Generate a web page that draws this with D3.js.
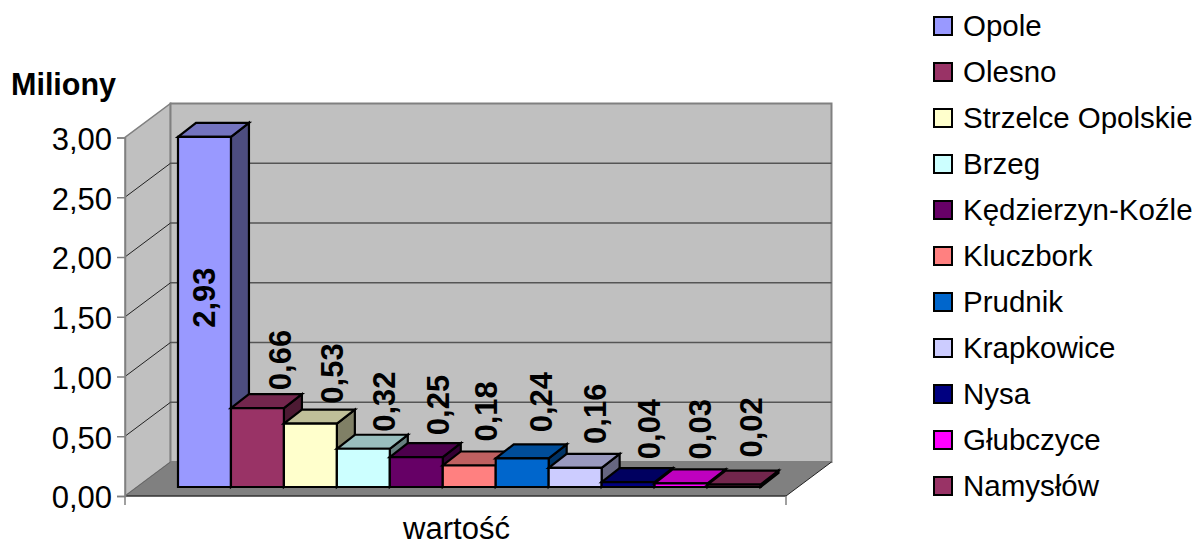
<!DOCTYPE html>
<html><head><meta charset="utf-8">
<script src="https://cdn.jsdelivr.net/npm/d3@7"></script>
<style>html,body{margin:0;padding:0;background:#fff}svg{display:block}text{font-family:"Liberation Sans",Arial,sans-serif;fill:#000}</style>
</head><body><svg id="c" width="1196" height="542"></svg>
<script>
const categories=["Opole","Olesno","Strzelce Opolskie","Brzeg","Kędzierzyn-Koźle","Kluczbork","Prudnik","Krapkowice","Nysa","Głubczyce","Namysłów"];
const values=[2.93,0.66,0.53,0.32,0.25,0.18,0.24,0.16,0.04,0.03,0.02];
const colors=["#9999FF","#993366","#FFFFCC","#CCFFFF","#660066","#FF8080","#0066CC","#CCCCFF","#000080","#FF00FF","#993366"];
const yTicks=[0,0.5,1,1.5,2,2.5,3];
const axisCategory="wartość", unitLabel="Miliony";

(function(){
const svg=d3.select("#c");
const fmt=v=>d3.format(".2f")(v).replace(".",",");
const W={x0:125,x1:786,y0:496,dx:45.5,dy:-34};
const y=d3.scaleLinear().domain([0,3]).range([W.y0,W.y0-358.5]);
const x=d3.scaleBand().domain(categories).range([178,760.5]);
const h0=487, bd={dx:18,dy:-14};
const hScale=d3.scaleLinear().domain([0,3]).range([0,358.5]);
const pts=a=>a.map(p=>p.join(",")).join(" ");
const yTop=y(3);
// label nudges: the source chart places value labels unevenly
const labelDx=[11,33.5,33,32,33,28,30,31,32,30,28];
const labelGap=[-191,18,20,17,22,24,26,24,23,24,27];

svg.append("polygon").attr("points",pts([[W.x0,W.y0],[W.x0,yTop],[W.x0+W.dx,yTop+W.dy],[W.x0+W.dx,W.y0+W.dy]])).attr("fill","#c0c0c0").attr("stroke","#808080").attr("stroke-width",1.5);
svg.append("polygon").attr("points",pts([[W.x0+W.dx,W.y0+W.dy],[W.x0+W.dx,yTop+W.dy],[W.x1+W.dx,yTop+W.dy],[W.x1+W.dx,W.y0+W.dy]])).attr("fill","#c0c0c0").attr("stroke","#808080").attr("stroke-width",2);
svg.append("polygon").attr("points",pts([[W.x0,W.y0],[W.x0+W.dx,W.y0+W.dy],[W.x1+W.dx,W.y0+W.dy],[W.x1,W.y0]])).attr("fill","#808080");
yTicks.slice(1,-1).forEach(t=>{
  svg.append("line").attr("x1",W.x0+W.dx).attr("x2",W.x1+W.dx).attr("y1",y(t)+W.dy).attr("y2",y(t)+W.dy).attr("stroke","#555").attr("stroke-width",1.5);
  svg.append("line").attr("x1",W.x0).attr("x2",W.x0+W.dx).attr("y1",y(t)).attr("y2",y(t)+W.dy).attr("stroke","#222").attr("stroke-width",1);
});
svg.append("line").attr("x1",W.x0).attr("x2",W.x1).attr("y1",W.y0).attr("y2",W.y0).attr("stroke","#333").attr("stroke-width",1.5);
svg.append("line").attr("x1",W.x1).attr("x2",W.x1+W.dx).attr("y1",W.y0).attr("y2",W.y0+W.dy).attr("stroke","#222").attr("stroke-width",1);
svg.append("line").attr("x1",W.x0).attr("x2",W.x0+W.dx).attr("y1",W.y0).attr("y2",W.y0+W.dy).attr("stroke","#666").attr("stroke-width",1);

const ax=svg.append("g").attr("transform",`translate(${W.x0},0)`).call(d3.axisLeft(y).tickValues(yTicks).tickFormat(fmt).tickSize(8).tickPadding(5));
ax.selectAll(".domain").attr("stroke","#808080").attr("stroke-width",1.5);
ax.selectAll(".tick line").attr("stroke","#808080").attr("stroke-width",1.5);
ax.selectAll("text").attr("font-size",31).attr("dy","0.38em");
ax.attr("font-family",null).attr("font-size",null);
[W.x0,W.x1].forEach(px=>svg.append("line").attr("x1",px).attr("x2",px).attr("y1",W.y0).attr("y2",W.y0+9).attr("stroke","#808080").attr("stroke-width",1.5));
svg.append("text").attr("x",456.5).attr("y",538.5).attr("text-anchor","middle").attr("font-size",31).text(axisCategory);
svg.append("text").attr("x",11).attr("y",95).attr("font-size",30.5).attr("font-weight","bold").text(unitLabel);

categories.forEach((c,i)=>{
  const g=svg.append("g").attr("stroke","#000").attr("stroke-width",2.2);
  const l=x(c),r=l+x.bandwidth(),t=h0-hScale(values[i]);
  const col=d3.rgb(colors[i]);
  const shade=k=>d3.rgb(col.r*k,col.g*k,col.b*k).formatHex();
  const poly=(p,f)=>g.append("polygon").attr("points",pts(p)).attr("fill",f);
  poly([[r,h0],[r,t],[r+bd.dx,t+bd.dy],[r+bd.dx,h0+bd.dy]],shade(.5));
  poly([[l,t],[l+bd.dx,t+bd.dy],[r+bd.dx,t+bd.dy],[r,t]],shade(.75));
  poly([[l,h0],[l,t],[r,t],[r,h0]],colors[i]);
});
categories.forEach((c,i)=>{
  const cx=x(c)+x.bandwidth()/2;
  const t=h0-hScale(values[i]);
  svg.append("text").attr("transform",`translate(${cx+labelDx[i]},${t-labelGap[i]}) rotate(-90)`)
    .attr("font-size",31).attr("font-weight","bold").text(fmt(values[i]));
});
const lg=d3.scalePoint().domain(categories).range([26,486]);
categories.forEach((c,i)=>{
  const cy=lg(c);
  svg.append("rect").attr("x",934).attr("y",cy-9).attr("width",18).attr("height",18).attr("fill",colors[i]).attr("stroke","#000").attr("stroke-width",2);
  svg.append("text").attr("x",963).attr("y",cy+10).attr("font-size",29.5).text(c);
});
})();
</script></body></html>
